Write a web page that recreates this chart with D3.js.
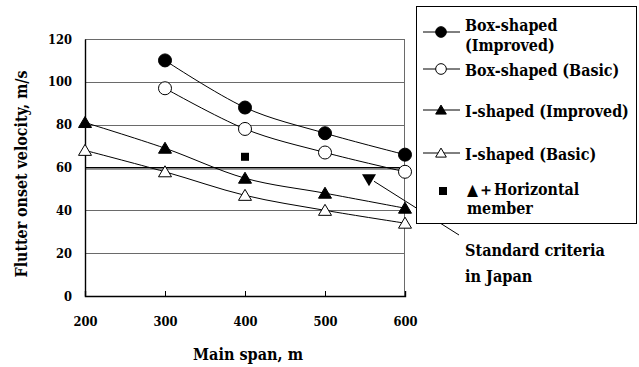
<!DOCTYPE html>
<html><head><meta charset="utf-8">
<script src="https://cdn.jsdelivr.net/npm/d3@7"></script>
<style>html,body{margin:0;padding:0;background:#fff;}svg{display:block;}
text{font-stretch:condensed;}</style>
</head><body>
<svg id="c" width="639" height="367"></svg>
<script>
// ---- data ----
const spans = [200, 300, 400, 500, 600];
const boxImproved = [null, 110, 88, 76, 66];
const boxBasic = [null, 97, 78, 67, 58];
const iImproved = [81, 69, 55, 48, 41];
const iBasic = [68, 58, 47, 40, 34];
const horizontalSpan = [400];
const horizontalValue = [65];
const criteriaSpan = [555];
const criteriaValue = [54.5];
const criteriaLines = [60, 59.2];
const yTicks = [0, 20, 40, 60, 80, 100, 120];
const xTicks = [200, 300, 400, 500, 600];
const seriesNames = ["Box-shaped (Improved)", "Box-shaped (Basic)", "I-shaped (Improved)", "I-shaped (Basic)"];

const FONT = "'DejaVu Serif Condensed', 'DejaVu Serif', serif";
const svg = d3.select("#c");
svg.append("rect").attr("width", 639).attr("height", 367).attr("fill", "#fff");

const x = d3.scaleLinear().domain([200, 600]).range([85, 405]);
const y = d3.scaleLinear().domain([0, 120]).range([296, 39]);

function fit(sel, target) {
  const w = sel.node().getComputedTextLength();
  const fs = parseFloat(sel.attr("font-size"));
  return fs * target / w;
}

// gridlines
svg.append("g").selectAll("line").data(yTicks.filter(d => d > 0)).join("line")
  .attr("x1", x(200)).attr("x2", x(600))
  .attr("y1", d => Math.round(y(d)) + 0.5).attr("y2", d => Math.round(y(d)) + 0.5)
  .attr("stroke", "#6a6a6a").attr("stroke-width", 1);
// right frame
svg.append("line").attr("x1", x(600) - 0.5).attr("x2", x(600) - 0.5)
  .attr("y1", y(120)).attr("y2", y(0)).attr("stroke", "#6a6a6a");

// criteria lines (black + grey)
svg.append("line").attr("x1", x(200)).attr("x2", x(600))
  .attr("y1", y(criteriaLines[0])).attr("y2", y(criteriaLines[0]))
  .attr("stroke", "#000").attr("stroke-width", 1.2);
svg.append("line").attr("x1", x(200)).attr("x2", x(600))
  .attr("y1", y(criteriaLines[1])).attr("y2", y(criteriaLines[1]))
  .attr("stroke", "#999").attr("stroke-width", 1.6);

// axes
const yAxis = svg.append("g").attr("transform", `translate(${x(200)},0)`)
  .call(d3.axisLeft(y).tickValues(yTicks).tickSize(0).tickPadding(13));
yAxis.select(".domain").attr("stroke", "#000").attr("stroke-width", 1.4);
const xAxis = svg.append("g").attr("transform", `translate(0,${y(0)})`)
  .call(d3.axisBottom(x).tickValues(xTicks).tickSize(-5).tickPadding(21));
xAxis.select(".domain").attr("stroke", "#000").attr("stroke-width", 1.4);
xAxis.selectAll(".tick line").attr("stroke", "#000");
svg.selectAll(".tick text").attr("font-family", FONT).attr("font-weight", "bold")
  .attr("font-size", 12).attr("fill", "#000");
const tfs = fit(yAxis.selectAll(".tick text").filter(d => d === 120), 24);
svg.selectAll(".tick text").attr("font-size", tfs);

// axis titles
const yt = svg.append("text").text("Flutter onset velocity, m/s")
  .attr("font-family", FONT).attr("font-weight", "bold").attr("font-size", 14)
  .attr("text-anchor", "middle").attr("transform", "translate(27,174) rotate(-90)");
yt.attr("font-size", fit(yt, 207));
const xt = svg.append("text").text("Main span, m")
  .attr("font-family", FONT).attr("font-weight", "bold").attr("font-size", 14)
  .attr("text-anchor", "middle").attr("x", 248).attr("y", 360);
xt.attr("font-size", fit(xt, 110));

// series
const series = [
  {vals: boxImproved, shape: "circle", fill: "#000"},
  {vals: boxBasic, shape: "circle", fill: "#fff"},
  {vals: iImproved, shape: "tri", fill: "#000"},
  {vals: iBasic, shape: "tri", fill: "#fff"}
];
const line = d3.line().defined(d => d[1] != null).x(d => x(d[0])).y(d => y(d[1]))
  .curve(d3.curveCardinal.tension(0));
const invTri = "M-7,-5L7,-5L0,7Z";
function drawMarker(g, shape, fill, cx, cy, k = 1) {
  if (shape === "circle") {
    g.append("circle").attr("cx", cx).attr("cy", cy).attr("r", 6.5 * k)
      .attr("fill", fill).attr("stroke", "#000").attr("stroke-width", 1);
  } else if (shape === "tri") {
    g.append("path").attr("d", `M0,${-6 * k}L${6.5 * k},${5 * k}L${-6.5 * k},${5 * k}Z`)
      .attr("transform", `translate(${cx},${cy})`)
      .attr("fill", fill).attr("stroke", "#000").attr("stroke-width", 1);
  } else if (shape === "square") {
    g.append("rect").attr("x", cx - 4).attr("y", cy - 4).attr("width", 8).attr("height", 8).attr("fill", "#000");
  }
}
series.forEach(s => {
  const pts = spans.map((sp, i) => [sp, s.vals[i]]).filter(d => d[1] != null);
  svg.append("path").datum(pts).attr("d", line).attr("fill", "none")
    .attr("stroke", "#000").attr("stroke-width", 1);
});
series.forEach(s => {
  const g = svg.append("g");
  spans.forEach((sp, i) => { if (s.vals[i] != null) drawMarker(g, s.shape, s.fill, x(sp), y(s.vals[i])); });
});
// horizontal member square
horizontalSpan.forEach((sp, i) => drawMarker(svg, "square", "#000", x(sp), y(horizontalValue[i])));
// criteria marker + leader
criteriaSpan.forEach((sp, i) => {
  svg.append("path").attr("d", invTri).attr("transform", `translate(${x(sp)},${y(criteriaValue[i])})`).attr("fill", "#000");
  svg.append("line").attr("x1", x(sp) + 5).attr("y1", y(criteriaValue[i]) + 2)
    .attr("x2", 459).attr("y2", 235).attr("stroke", "#000").attr("stroke-width", 1);
});
const sc1 = svg.append("text").text("Standard criteria").attr("font-family", FONT).attr("font-weight", "bold")
  .attr("font-size", 13).attr("x", 465).attr("y", 250).attr("dy", "0.35em");
const scfs = fit(sc1, 140);
sc1.attr("font-size", scfs);
svg.append("text").text("in Japan").attr("font-family", FONT).attr("font-weight", "bold")
  .attr("font-size", scfs).attr("x", 465).attr("y", 276).attr("dy", "0.35em");

// legend
const lg = svg.append("g");
lg.append("rect").attr("x", 416.5).attr("y", 6.5).attr("width", 220).attr("height", 217)
  .attr("fill", "#fff").attr("stroke", "#000").attr("stroke-width", 1);
const rows = [
  {lines: ["Box-shaped", "(Improved)"], ty: [25, 45], my: 32},
  {lines: [seriesNames[1]], ty: [70], my: 69},
  {lines: [seriesNames[2]], ty: [111], my: 110},
  {lines: [seriesNames[3]], ty: [154], my: 153}
];
const probe = lg.append("text").text(seriesNames[2]).attr("font-family", FONT)
  .attr("font-weight", "bold").attr("font-size", 14);
const lfs = fit(probe, 164);
probe.remove();
rows.forEach((r, i) => {
  lg.append("line").attr("x1", 423).attr("x2", 460).attr("y1", r.my).attr("y2", r.my)
    .attr("stroke", "#000").attr("stroke-width", 1);
  drawMarker(lg, series[i].shape, series[i].fill, 441, r.my, 0.82);
  r.lines.forEach((t, j) => lg.append("text").text(t).attr("x", 465).attr("y", r.ty[j]).attr("dy", "0.35em")
    .attr("font-family", FONT).attr("font-weight", "bold").attr("font-size", lfs));
});
drawMarker(lg, "square", "#000", 443, 191);
lg.append("text").attr("x", 467).attr("y", 189).attr("dy", "0.35em")
  .attr("font-family", FONT).attr("font-weight", "bold").attr("font-size", lfs)
  .text("▲＋Horizontal");
lg.append("text").attr("x", 467).attr("y", 208).attr("dy", "0.35em")
  .attr("font-family", FONT).attr("font-weight", "bold").attr("font-size", lfs)
  .text("member");
</script>
</body></html>
